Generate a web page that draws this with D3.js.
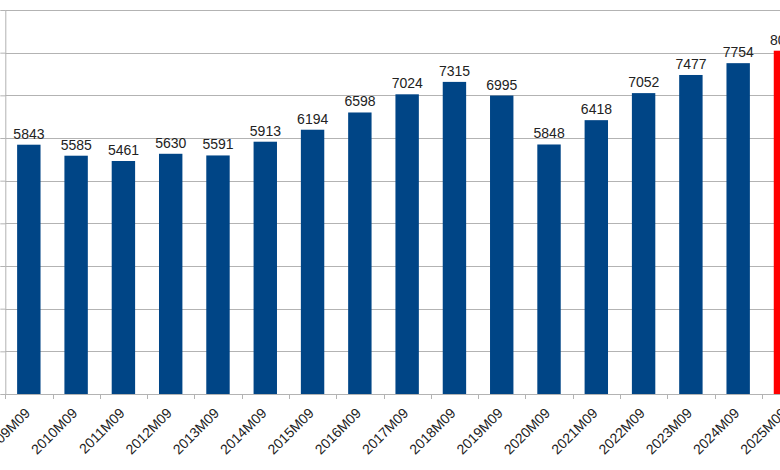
<!DOCTYPE html>
<html>
<head>
<meta charset="utf-8">
<script src="https://cdn.jsdelivr.net/npm/d3@7"></script>
<style>
  html, body { margin: 0; padding: 0; background: #fff; overflow: hidden; }
  svg { display: block; }
  text { font-family: "Liberation Sans", Arial, sans-serif; }
</style>
</head>
<body>
<svg id="chart" width="780" height="470"></svg>
<script>
const categories = ["2009M09","2010M09","2011M09","2012M09","2013M09","2014M09","2015M09","2016M09","2017M09","2018M09","2019M09","2020M09","2021M09","2022M09","2023M09","2024M09","2025M09"];
const values = [5843,5585,5461,5630,5591,5913,6194,6598,7024,7315,6995,5848,6418,7052,7477,7754,8046];
const highlight = ["2025M09"];
const yTicks = [0,1000,2000,3000,4000,5000,6000,7000,8000,9000];

const svg = d3.select("#chart");
const x0 = 5.3, baseY = 394, topY = 10;

const x = d3.scaleBand().domain(categories).range([x0, x0 + 47.29 * categories.length]).padding(0);
const y = d3.scaleLinear().domain([0, 9000]).range([baseY, topY]);

// gridlines
svg.append("g").selectAll("line").data(yTicks.filter(t => t > 0)).join("line")
  .attr("x1", x0).attr("x2", 780)
  .attr("y1", d => Math.round(y(d)) + 0.5).attr("y2", d => Math.round(y(d)) + 0.5)
  .attr("stroke", "#b3b3b3").attr("stroke-width", 1);

// left axis (ticks only, labels outside the visible crop)
const yAxis = svg.append("g").attr("transform", `translate(${x0},0)`)
  .call(d3.axisLeft(y).tickValues(yTicks).tickSize(5).tickFormat(""));
yAxis.selectAll("line").attr("stroke", "#b3b3b3");
yAxis.select(".domain").attr("stroke", "#b3b3b3").attr("d", `M0.5,${topY}V${baseY}`);

// bars
svg.append("g").selectAll("rect").data(categories).join("rect")
  .attr("x", d => x(d) + x.bandwidth() * 0.25)
  .attr("width", x.bandwidth() * 0.495)
  .attr("y", (d, i) => y(values[i]))
  .attr("height", (d, i) => baseY - y(values[i]))
  .attr("fill", d => highlight.includes(d) ? "#ff0000" : "#004586");

// bottom axis
const xAxis = svg.append("g").attr("transform", `translate(0,${baseY})`);
xAxis.append("line").attr("x1", x0).attr("x2", 780).attr("y1", 0.5).attr("y2", 0.5).attr("stroke", "#b3b3b3");
const boundaries = categories.map(c => x(c)).concat([x(categories[categories.length - 1]) + x.bandwidth()]);
xAxis.selectAll("line.tick").data(boundaries).join("line").attr("class", "tick")
  .attr("x1", d => Math.round(d) + 0.5).attr("x2", d => Math.round(d) + 0.5)
  .attr("y1", 0).attr("y2", 5).attr("stroke", "#b3b3b3");
xAxis.selectAll("text").data(categories).join("text")
  .attr("transform", d => `translate(${x(d) + x.bandwidth() / 2 + 2},${20}) rotate(-45)`)
  .attr("text-anchor", "end")
  .attr("font-size", 14)
  .attr("fill", "#222")
  .text(d => d);

// value labels
svg.append("g").selectAll("text").data(categories).join("text")
  .attr("x", d => x(d) + x.bandwidth() / 2)
  .attr("y", (d, i) => y(values[i]) - 6)
  .attr("text-anchor", "middle")
  .attr("font-size", 14)
  .attr("fill", "#222")
  .text((d, i) => values[i]);
</script>
</body>
</html>
